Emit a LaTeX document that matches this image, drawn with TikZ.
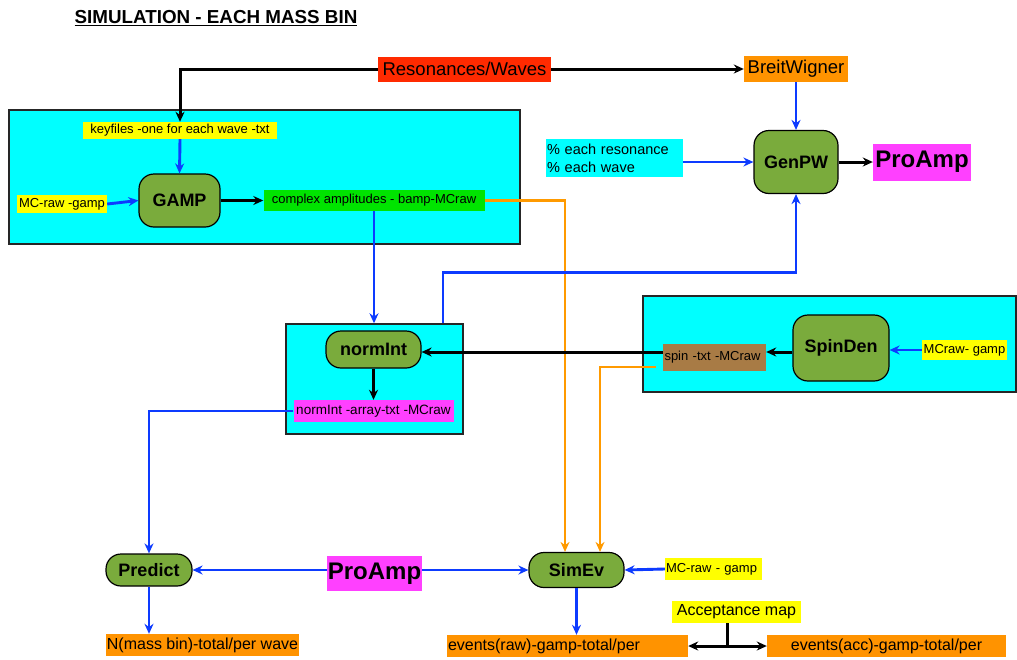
\documentclass[tikz,border=0pt]{standalone}
\usepackage{fontspec}
\setmainfont{Liberation Sans}
\usetikzlibrary{arrows.meta,positioning,calc}

\definecolor{boxcyan}{HTML}{00FFFF}
\definecolor{procgreen}{HTML}{7AAB3C}
\definecolor{resred}{HTML}{FF2A00}
\definecolor{tagorange}{HTML}{FF9300}
\definecolor{tagyellow}{HTML}{FFFF00}
\definecolor{taggreen}{HTML}{00E400}
\definecolor{tagmagenta}{HTML}{FF40FF}
\definecolor{tagbrown}{HTML}{A87B45}
\definecolor{flowblue}{HTML}{0D3BFF}
\definecolor{lineorange}{HTML}{FF9A00}
\newcommand{\pxfont}[1]{\fontsize{#1}{#1}\selectfont}

\begin{document}
\begin{tikzpicture}[
  x=1pt, y=-1pt, >={Stealth[length=10pt,width=9pt]},
  every node/.style={inner sep=0pt},
  grp/.style={draw=black!85, fill=boxcyan, line width=1.4pt},
  proc/.style={draw=black, fill=procgreen, line width=1.2pt,
               rounded corners=15pt, font=\bfseries\pxfont{18}},
  tag/.style={font=\pxfont{13}},
  bigtag/.style={font=\pxfont{16}},
  feed/.style={->, line width=3pt},
  flow/.style={->, flowblue, line width=2.9pt},
  spill/.style={->, lineorange, line width=2.4pt},
]
\useasboundingbox (0,0) rectangle (1017,659);
\node[font=\bfseries\pxfont{18.8}] (title) at (216,18) {\underline{SIMULATION - EACH MASS BIN}};

\node[grp, minimum width=511pt, minimum height=134pt] (gampbox) at (264.5,177) {};
\node[grp, minimum width=177pt, minimum height=110pt] (nibox) at (374.5,379) {};
\node[grp, minimum width=373pt, minimum height=96pt] (spinbox) at (829.5,344) {};

\node[fill=resred, font=\pxfont{18.5}, minimum width=173pt, minimum height=25pt] (res) at (464.5,69) {Resonances/Waves};
\node[fill=tagorange, font=\pxfont{18.5}, minimum width=104pt, minimum height=26pt] (bw) at (796,69) {BreitWigner};
\node[tag, fill=tagyellow, minimum width=194pt, minimum height=17pt] (keys) at (180,130.5) {keyfiles -one for each wave -txt};
\node[tag, fill=tagyellow, minimum width=90pt, minimum height=18pt] (mcraw1) at (62,204) {MC-raw -gamp};
\node[proc, minimum width=81pt, minimum height=53pt] (gamp) at (179.5,200.5) {GAMP};
\node[tag, fill=taggreen, minimum width=221pt, minimum height=21pt] (cmplx) at (374,200.5) {complex amplitudes - bamp-MCraw};
\node[fill=boxcyan, font=\fontsize{14.5}{18}\selectfont, align=left, text width=135pt, inner xsep=1pt,
      minimum height=38pt] (pct) at (614.5,158) {\% each resonance\\\% each wave};
\node[proc, minimum width=84pt, minimum height=63pt] (genpw) at (796,162) {GenPW};
\node[fill=tagmagenta, font=\bfseries\pxfont{24}, minimum width=98pt, minimum height=37pt] (proamp1) at (922,162) {ProAmp};

\node[proc, minimum width=95pt, minimum height=37pt] (normint) at (373.5,349.5) {normInt};
\node[tag, fill=tagmagenta, font=\pxfont{13.5}, minimum width=160pt, minimum height=22pt] (niarr) at (373.5,411) {normInt -array-txt -MCraw};
\node[tag, fill=tagbrown, align=left, text width=100pt, inner xsep=1.5pt, minimum height=27pt] (spin) at (714.5,357.5) {spin -txt -MCraw};
\node[proc, minimum width=96pt, minimum height=66pt] (spinden) at (841,348) {SpinDen};
\node[tag, fill=tagyellow, minimum width=85pt, minimum height=20pt] (mcraw2) at (964.5,350) {MCraw- gamp};

\node[proc, minimum width=86pt, minimum height=32pt] (predict) at (149,570) {Predict};
\node[fill=tagmagenta, font=\bfseries\pxfont{24}, minimum width=95pt, minimum height=35pt] (proamp2) at (374.5,573.5) {ProAmp};
\node[proc, minimum width=95pt, minimum height=35pt] (simev) at (576.5,570) {SimEv};
\node[tag, fill=tagyellow, align=left, text width=95pt, inner xsep=1pt, minimum height=22pt] (mcraw3) at (713.5,569) {MC-raw - gamp};
\node[bigtag, fill=tagorange, minimum width=193pt, minimum height=22pt] (nmass) at (202.5,645) {N(mass bin)-total/per wave};
\node[bigtag, fill=tagorange, align=left, text width=239pt, inner xsep=1pt, minimum height=22pt] (evraw) at (567.5,646) {events(raw)-gamp-total/per};
\node[bigtag, fill=tagorange, minimum width=239pt, minimum height=22pt] (evacc) at (886.5,646) {events(acc)-gamp-total/per};
\node[bigtag, fill=tagyellow, minimum width=129pt, minimum height=22pt] (accmap) at (736.5,612) {Acceptance map};

\draw[feed] (res.east) -- (bw.west);
\draw[feed] (res.west) -| (keys.north);
\draw[flow] (keys.south) -- (gamp.north);
\draw[flow] (mcraw1.east) -- (gamp.west);
\draw[feed] (gamp.east) -- (cmplx.west);
\draw[spill] (cmplx.east) -| ([xshift=-11.5pt]simev.north);
\draw[flow] (cmplx.south) -- (cmplx.south |- nibox.north);
\draw[flow] ([xshift=68.5pt]nibox.north) -- ++(0,-51) -| (genpw.south);
\draw[flow] (pct.east |- genpw.west) -- (genpw.west);
\draw[flow] (bw.south) -- (genpw.north);
\draw[feed] (genpw.east) -- (proamp1.west);
\draw[feed] (normint.south) -- (niarr.north);
\draw[flow] (niarr.west) -| (predict.north);
\draw[flow] (mcraw2.west) -- (mcraw2.west -| spinden.east);
\draw[feed] ([yshift=-4pt]spinden.west) -- ([yshift=5.5pt]spin.east);
\draw[feed] ([yshift=5.5pt]spin.west) -- ([yshift=-2.5pt]normint.east);
\draw[spill] ([xshift=-7pt,yshift=4pt]spin.south west) -| ([xshift=23.5pt]simev.north);
\draw[flow] ([yshift=3.5pt]proamp2.west) -- (predict.east);
\draw[flow] ([yshift=3.5pt]proamp2.east) -- (simev.west);
\draw[flow] (mcraw3.west) -- (simev.east);
\draw[flow] (predict.south) -- (predict.south |- nmass.north);
\draw[flow] (simev.south) -- (simev.south |- evraw.north);
\draw[feed, <->] (evraw.east) -- (evacc.west);
\coordinate (accjoin) at ([xshift=-9pt]accmap.south |- evraw.east);
\draw[line width=3pt] ([xshift=-9pt]accmap.south) -- (accjoin);
\end{tikzpicture}
\end{document}
